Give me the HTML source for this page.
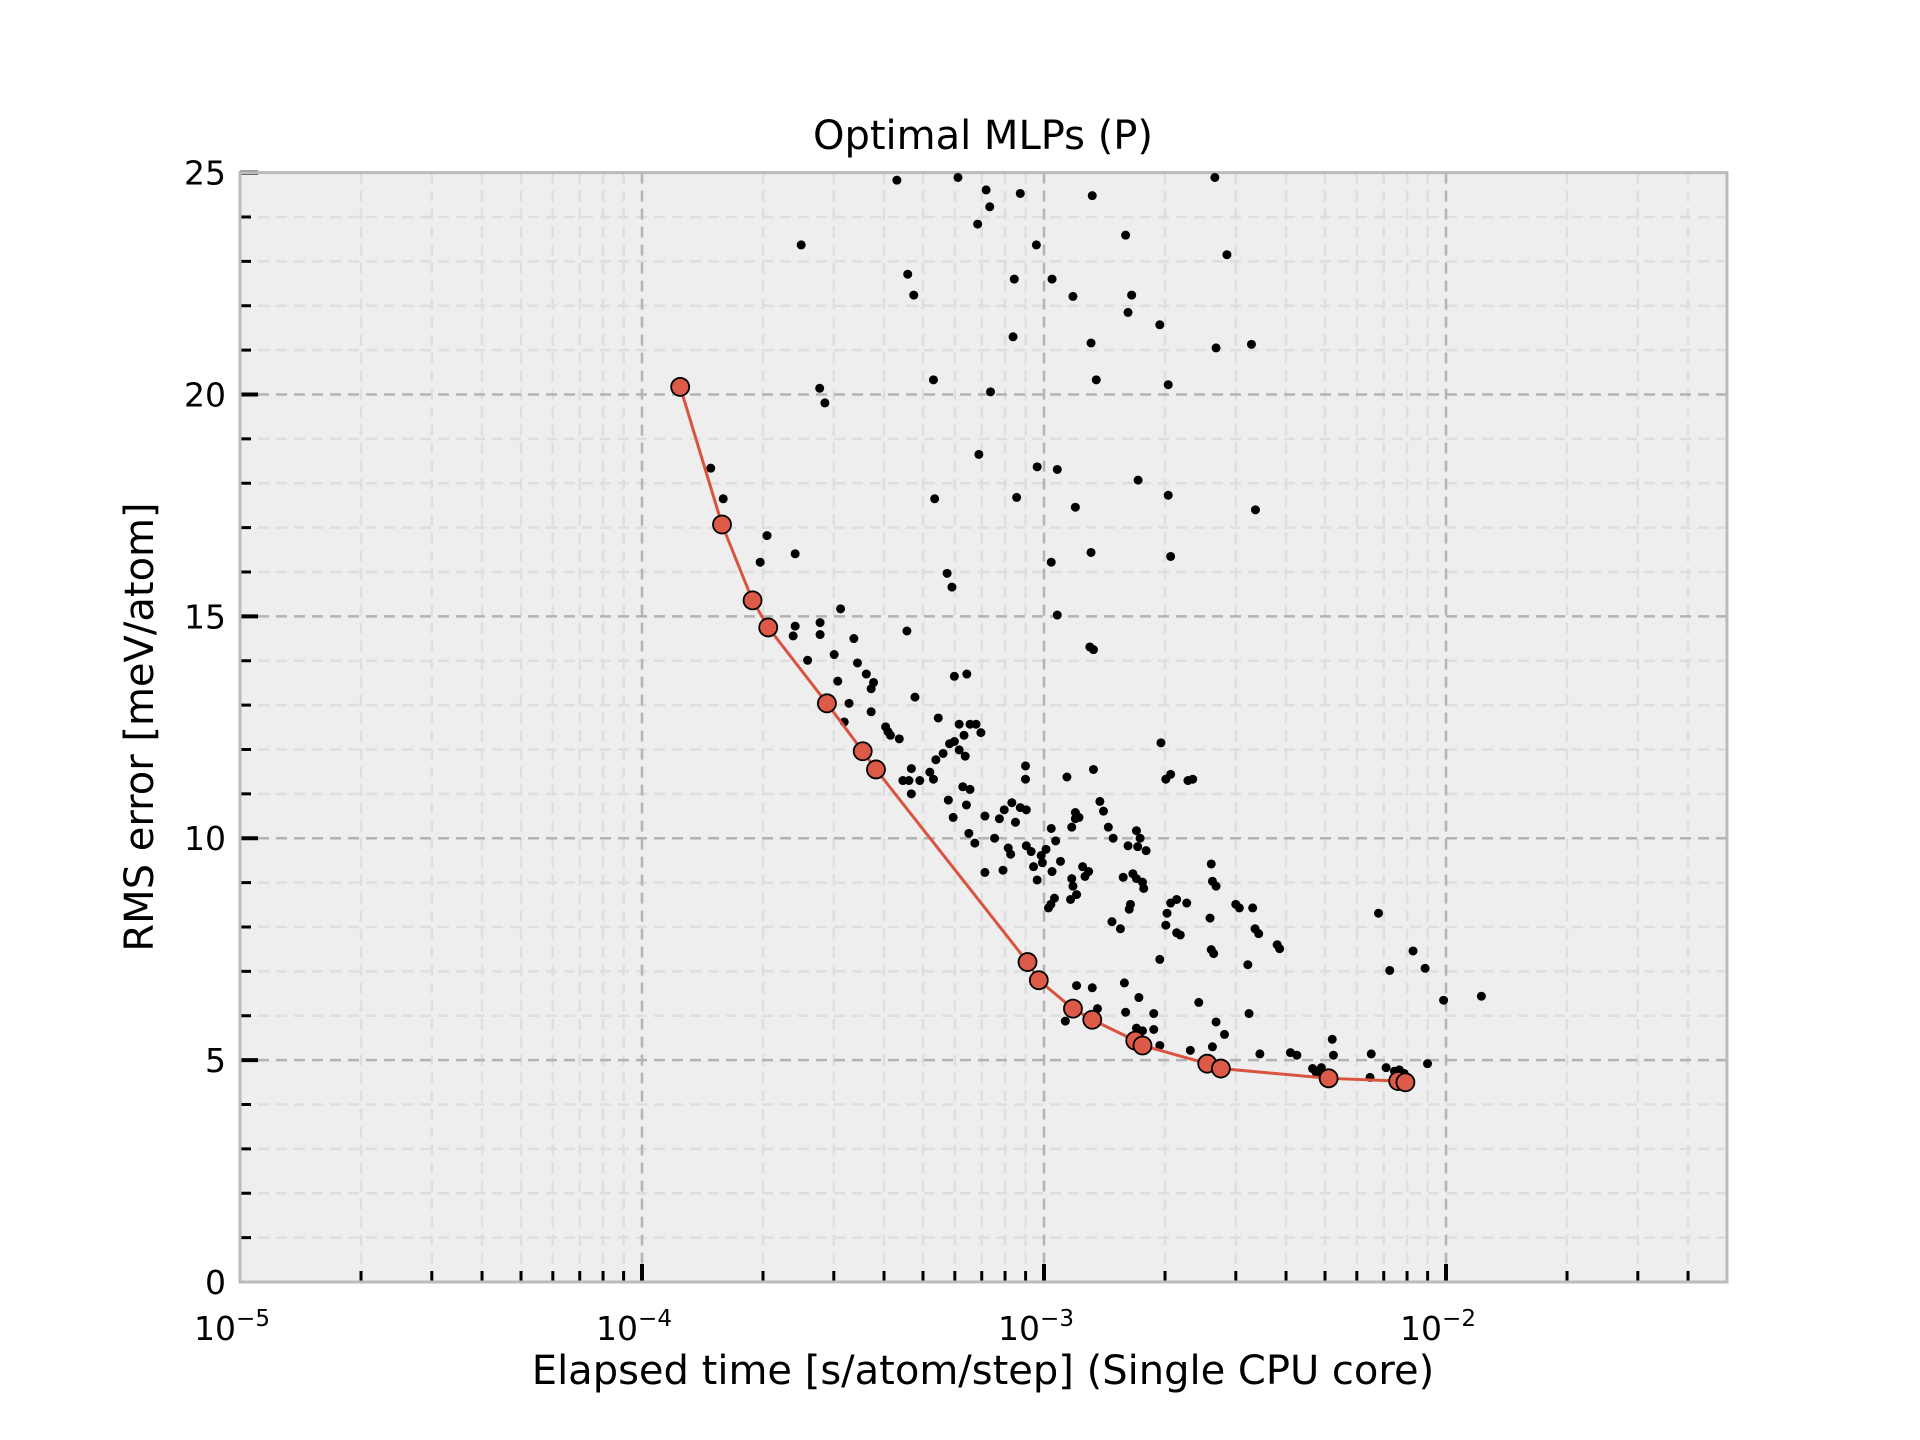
<!DOCTYPE html>
<html><head><meta charset="utf-8"><style>
html,body{margin:0;padding:0;background:#fff;}
svg{display:block;font-family:"DejaVu Sans","Liberation Sans",sans-serif;}
</style></head><body>
<svg id="chart" width="1920" height="1440" viewBox="0 0 1920 1440" xmlns="http://www.w3.org/2000/svg">
<text x="983" y="149" font-size="40" text-anchor="middle">Optimal MLPs (P)</text>
<text x="983" y="1384" font-size="40" text-anchor="middle">Elapsed time [s/atom/step] (Single CPU core)</text>
<text x="153" y="727" font-size="40" text-anchor="middle" transform="rotate(-90 153 727)">RMS error [meV/atom]</text>
</svg>
<script>
// Pareto front (red): log10 elapsed time, RMS error
const paretoLogTime = [-3.905,-3.801,-3.725,-3.686,-3.540,-3.451,-3.418,-3.041,-3.013,-2.928,-2.880,-2.773,-2.755,-2.594,-2.560,-2.292,-2.119,-2.101];
const paretoRms = [20.17,17.07,15.36,14.75,13.04,11.96,11.55,7.21,6.80,6.16,5.91,5.44,5.33,4.92,4.81,4.59,4.53,4.50];
// All MLPs (black): log10 elapsed time, RMS error
const allLogTime = [-3.366,-3.214,-3.144,-3.059,-2.880,-2.575,-3.135,-3.165,-2.797,-3.604,-3.019,-2.545,-3.339,-3.074,-2.980,-3.324,-2.928,-2.782,-2.791,-2.712,-3.077,-2.883,-2.484,-2.572,-3.558,-3.545,-3.275,-3.133,-2.870,-2.691,-3.162,-3.017,-2.967,-2.766,-2.691,-3.272,-3.068,-2.922,-2.474,-3.829,-3.798,-3.689,-3.706,-3.619,-2.883,-2.685,-2.982,-3.241,-3.229,-2.967,-3.506,-3.557,-3.619,-3.624,-3.557,-3.473,-3.341,-2.886,-2.877,-3.588,-3.522,-3.464,-3.442,-3.424,-3.513,-3.223,-3.192,-3.321,-3.430,-3.485,-3.497,-3.430,-3.263,-3.394,-3.382,-3.360,-3.388,-3.211,-3.184,-3.169,-3.157,-3.199,-3.223,-3.235,-3.251,-3.211,-3.196,-3.269,-3.284,-3.330,-3.336,-3.330,-3.309,-3.275,-3.351,-3.046,-3.046,-2.943,-2.877,-2.709,-2.685,-2.697,-2.642,-2.630,-3.202,-3.184,-3.238,-3.193,-3.226,-3.147,-3.099,-3.111,-3.080,-3.059,-3.044,-3.071,-2.982,-2.922,-2.922,-2.913,-2.931,-2.861,-2.852,-2.840,-2.770,-2.761,-2.828,-3.187,-3.172,-3.123,-3.089,-3.083,-3.044,-3.032,-3.007,-2.995,-2.971,-3.026,-3.017,-3.004,-2.980,-2.959,-3.102,-3.147,-2.904,-2.898,-2.889,-2.931,-2.928,-2.919,-2.934,-2.974,-2.983,-2.989,-2.803,-2.791,-2.767,-2.746,-2.779,-2.770,-2.755,-2.752,-2.785,-2.788,-2.831,-2.810,-2.712,-2.694,-2.685,-2.670,-2.697,-2.670,-2.661,-2.645,-2.584,-2.581,-2.572,-2.587,-2.584,-2.578,-2.523,-2.514,-2.481,-2.475,-2.466,-2.420,-2.414,-2.493,-2.168,-2.082,-2.140,-2.052,-2.006,-1.912,-2.919,-2.880,-2.800,-2.764,-2.867,-2.947,-2.797,-2.727,-2.615,-2.490,-2.572,-2.551,-2.770,-2.755,-2.727,-2.712,-2.636,-2.581,-2.463,-2.387,-2.371,-2.283,-2.280,-2.186,-2.332,-2.310,-2.323,-2.189,-2.149,-2.128,-2.116,-2.104,-2.046];
const allRms = [24.83,24.89,24.61,24.53,24.48,24.89,24.23,23.84,23.59,23.37,23.37,23.15,22.71,22.60,22.60,22.24,22.21,22.24,21.85,21.57,21.30,21.16,21.13,21.05,20.14,19.81,20.33,20.06,20.33,20.22,18.65,18.37,18.31,18.07,17.73,17.65,17.68,17.46,17.40,18.34,17.65,16.82,16.22,16.41,16.44,16.35,16.22,15.97,15.66,15.03,15.17,14.86,14.78,14.56,14.59,14.50,14.67,14.31,14.25,14.01,14.14,13.95,13.70,13.51,13.54,13.65,13.70,13.18,13.37,13.04,12.62,12.85,12.71,12.51,12.32,12.24,12.40,12.57,12.57,12.57,12.38,12.32,12.18,12.13,11.91,11.99,11.85,11.77,11.49,11.57,11.30,11.00,11.30,11.33,11.30,11.63,11.33,11.38,11.55,12.15,11.44,11.33,11.30,11.33,11.16,11.10,10.86,10.75,10.47,10.50,10.64,10.44,10.80,10.69,10.64,10.36,10.22,10.58,10.44,10.47,10.25,10.83,10.61,10.25,10.17,10.00,10.00,10.11,9.89,10.00,9.78,9.64,9.83,9.70,9.61,9.75,9.94,9.36,9.06,9.45,9.25,9.48,9.28,9.23,9.36,9.14,9.25,9.09,8.92,8.73,8.62,8.65,8.51,8.43,9.12,9.83,9.81,9.72,9.20,9.09,9.01,8.87,8.51,8.40,8.12,7.96,7.27,8.31,8.54,8.62,8.04,7.87,7.82,8.54,9.42,9.03,8.92,8.20,7.49,7.40,8.51,8.43,8.43,7.96,7.85,7.60,7.51,7.15,8.31,7.46,7.02,7.07,6.35,6.44,6.68,6.63,6.74,6.41,6.16,5.88,6.08,6.05,6.30,6.05,5.86,5.58,5.72,5.66,5.69,5.33,5.22,5.30,5.14,5.17,5.11,5.47,5.11,5.14,4.81,4.83,4.72,4.61,4.83,4.75,4.78,4.70,4.92];
const xDecades = [-5,-4,-3,-2];
const xDecadeLabels = ["\u22125","\u22124","\u22123","\u22122"];
const yTicks = [0,5,10,15,20,25];
const yTickLabels = ["0","5","10","15","20","25"];
const xDomain = [-5, Math.log10(0.05)];
const yDomain = [0, 25];

const L=240,R=1727,T=172.6,B=1282;
const NS='http://www.w3.org/2000/svg';
const svg=document.getElementById('chart');
const sx=v=>L+(v-xDomain[0])/(xDomain[1]-xDomain[0])*(R-L);
const sy=v=>B-(v-yDomain[0])/(yDomain[1]-yDomain[0])*(B-T);
function mk(tag,attrs,parent){const e=document.createElementNS(NS,tag);for(const k in attrs)e.setAttribute(k,attrs[k]);(parent||svg).appendChild(e);return e;}

const bg=mk('rect',{x:L,y:T,width:R-L,height:B-T,fill:'#eeeeee'});


const grid=mk('g',{});


for(let i=0;i<=25;i++){ if(i%5===0) continue;
  mk('line',{x1:L,x2:R,y1:sy(i),y2:sy(i),stroke:'#dedede','stroke-width':2.5,'stroke-dasharray':'11 7'},grid);}
const minorX=[];
for(const d of [-5,-4,-3,-2]){for(let m=2;m<=9;m++){const lv=d+Math.log10(m);if(lv<xDomain[1])minorX.push(lv);}}
for(const lv of minorX) mk('line',{x1:sx(lv),x2:sx(lv),y1:T,y2:B,stroke:'#dedede','stroke-width':2.5,'stroke-dasharray':'11 7'},grid);
for(const v of yTicks){ if(v===0||v===25) continue;
  mk('line',{x1:L,x2:R,y1:sy(v),y2:sy(v),stroke:'#b3b3b3','stroke-width':2.5,'stroke-dasharray':'11 7'},grid);}
for(const d of xDecades){ if(d===-5) continue;
  mk('line',{x1:sx(d),x2:sx(d),y1:T,y2:B,stroke:'#b3b3b3','stroke-width':2.5,'stroke-dasharray':'11 7'},grid);}

const ticks=mk('g',{stroke:'#000'});


for(let i=1;i<=25;i++){const len=i%5===0?18:11;mk('line',{x1:L,x2:L+len,y1:sy(i),y2:sy(i),'stroke-width':i%5===0?4:3},ticks);}
for(const lv of minorX) mk('line',{x1:sx(lv),x2:sx(lv),y1:B,y2:B-11,'stroke-width':3},ticks);
for(const d of xDecades){ if(d===-5) continue; mk('line',{x1:sx(d),x2:sx(d),y1:B,y2:B-18,'stroke-width':4},ticks);}

const frame=mk('rect',{x:L,y:T,width:R-L,height:B-T,fill:'none',stroke:'#bbbbbb','stroke-width':3});



yTicks.forEach((v,i)=>{const t=mk('text',{x:L-14,y:sy(v)+12,'font-size':33,'text-anchor':'end'});t.textContent=yTickLabels[i];

});
xDecades.forEach((d,i)=>{const t=mk('text',{x:sx(d)-8,y:B+58,'font-size':33,'text-anchor':'middle'});


t.textContent='10';const s=mk('tspan',{'font-size':23,dy:-14},t);s.textContent=xDecadeLabels[i];});

const sc=mk('g',{fill:'#000'});


for(let i=0;i<allLogTime.length;i++){const c=mk('circle',{cx:sx(allLogTime[i]),cy:sy(allRms[i]),r:4.5},sc);

}

const pts=paretoLogTime.map((v,i)=>sx(v)+','+sy(paretoRms[i])).join(' ');
const pl=mk('polyline',{points:pts,fill:'none',stroke:'#d9533f','stroke-width':3});


for(let i=0;i<paretoLogTime.length;i++){const c=mk('circle',{cx:sx(paretoLogTime[i]),cy:sy(paretoRms[i]),r:9,fill:'#dd5a48',stroke:'#000','stroke-width':1.8});

}
</script>
</body></html>
